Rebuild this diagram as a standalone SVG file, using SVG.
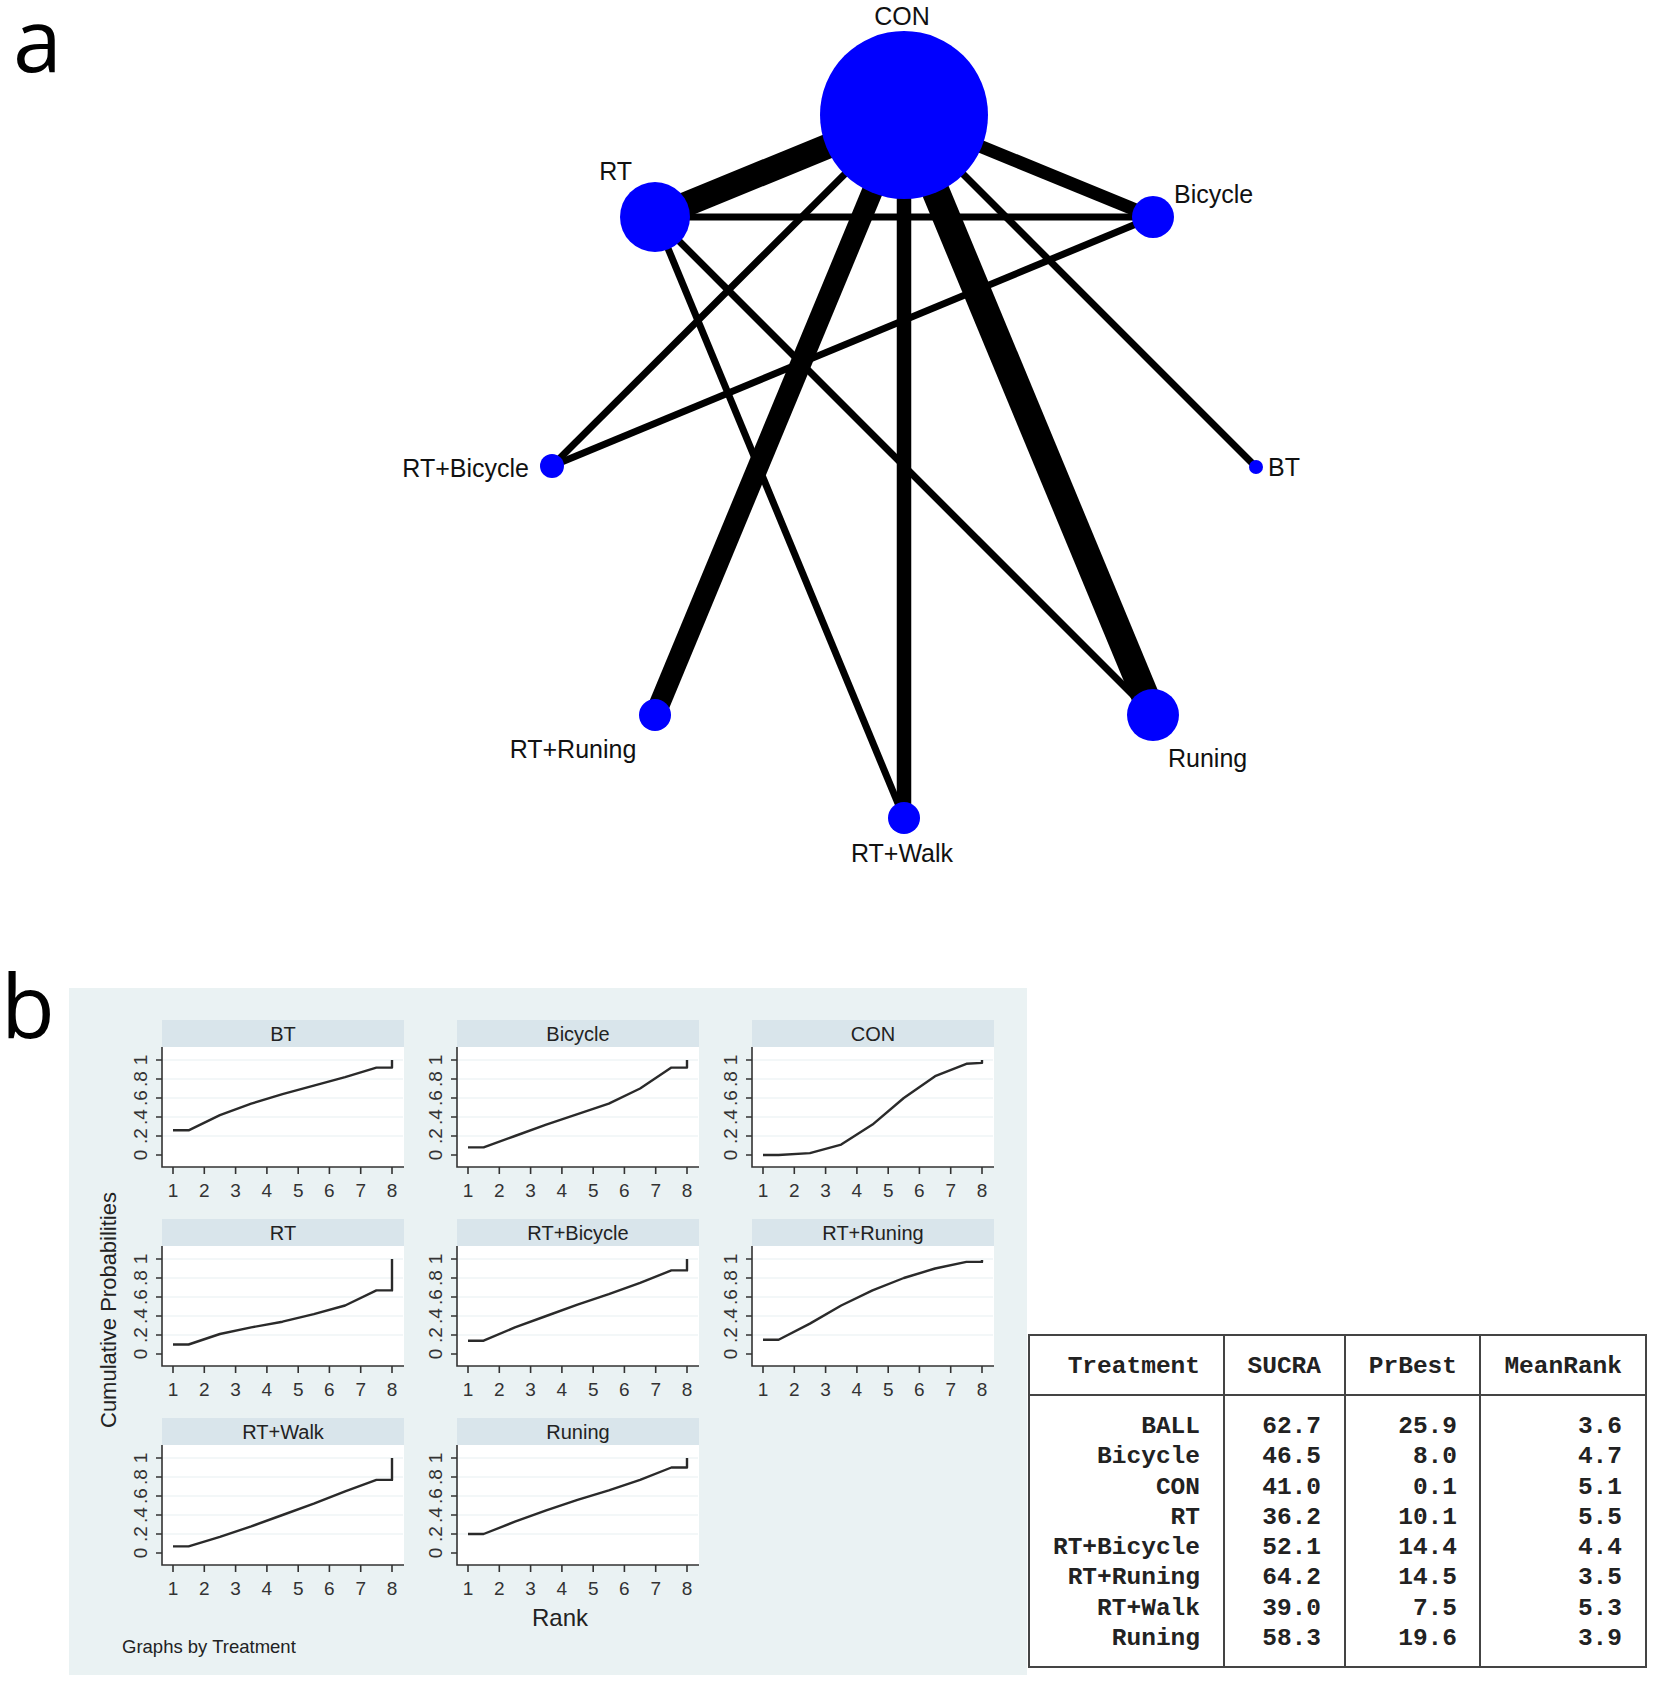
<svg xmlns="http://www.w3.org/2000/svg" width="1654" height="1682" viewBox="0 0 1654 1682">
<style>
.lbl{font-family:"Liberation Sans",Arial,sans-serif;font-size:25px;fill:#111}
.node{fill:#0000ff}
.edge{stroke:#000;fill:none;stroke-linecap:butt}
.panelbg{fill:#eaf2f3}
.strip{fill:#d9e5eb}
.plot{fill:#fff}
.axis{stroke:#333;stroke-width:1.6;fill:none}
.grid{stroke:#e8f0f2;stroke-width:1.2}
.curve{stroke:#2a2a2a;stroke-width:2.4;fill:none;stroke-linejoin:round}
.tick{font-family:"Liberation Sans",Arial,sans-serif;font-size:19px;fill:#333;text-anchor:middle}
.ttl{font-family:"Liberation Sans",Arial,sans-serif;font-size:20px;fill:#222;text-anchor:middle}
.tb{font-family:"Liberation Mono","Courier New",monospace;font-weight:bold;font-size:24.5px;fill:#222;text-anchor:end}
.tline{stroke:#444;stroke-width:2;fill:none}
.letter{font-family:"Open Sans","DejaVu Sans",sans-serif;font-size:88px;fill:#000}
</style>
<rect width="1654" height="1682" fill="#fff"/>
<text class="letter" x="13" y="72">a</text>
<g id="connectors">
<line class="edge" x1="904" y1="115" x2="655" y2="217" stroke-width="25"/>
<line class="edge" x1="904" y1="115" x2="1153" y2="217" stroke-width="13"/>
<line class="edge" x1="655" y1="217" x2="1153" y2="217" stroke-width="7"/>
<line class="edge" x1="904" y1="115" x2="552" y2="466" stroke-width="7"/>
<line class="edge" x1="904" y1="115" x2="1256" y2="467" stroke-width="7"/>
<line class="edge" x1="1153" y1="217" x2="552" y2="466" stroke-width="7"/>
<line class="edge" x1="655" y1="217" x2="904" y2="818" stroke-width="7"/>
<line class="edge" x1="655" y1="217" x2="1153" y2="715" stroke-width="7"/>
<line class="edge" x1="904" y1="115" x2="655" y2="715" stroke-width="21"/>
<line class="edge" x1="904" y1="115" x2="904" y2="818" stroke-width="14.5"/>
<line class="edge" x1="904" y1="115" x2="1153" y2="715" stroke-width="28"/>
</g>
<g id="node-CON"><circle class="node" cx="904" cy="115" r="84"/><text class="lbl" x="902" y="25" text-anchor="middle">CON</text></g>
<g id="node-RT"><circle class="node" cx="655" cy="217" r="35"/><text class="lbl" x="632" y="180" text-anchor="end">RT</text></g>
<g id="node-Bicycle"><circle class="node" cx="1153" cy="217" r="21"/><text class="lbl" x="1174" y="203">Bicycle</text></g>
<g id="node-RTBicycle"><circle class="node" cx="552" cy="466" r="12"/><text class="lbl" x="529" y="477" text-anchor="end">RT+Bicycle</text></g>
<g id="node-BT"><circle class="node" cx="1256" cy="467" r="7"/><text class="lbl" x="1268" y="476">BT</text></g>
<g id="node-RTRuning"><circle class="node" cx="655" cy="715" r="16"/><text class="lbl" x="573" y="758" text-anchor="middle">RT+Runing</text></g>
<g id="node-Runing"><circle class="node" cx="1153" cy="715" r="26"/><text class="lbl" x="1168" y="767">Runing</text></g>
<g id="node-RTWalk"><circle class="node" cx="904" cy="818" r="16"/><text class="lbl" x="902" y="862" text-anchor="middle">RT+Walk</text></g>

<text class="letter" x="1" y="1038">b</text>
<rect class="panelbg" x="69" y="988" width="958" height="687"/>

<defs>
<g id="frame">
<rect class="strip" x="0" y="0" width="242" height="27"/>
<rect class="plot" x="0" y="27" width="242" height="120"/>
<line class="grid" x1="1" y1="116" x2="241" y2="116"/>
<line class="grid" x1="1" y1="97" x2="241" y2="97"/>
<line class="grid" x1="1" y1="78" x2="241" y2="78"/>
<line class="grid" x1="1" y1="59" x2="241" y2="59"/>
<line class="grid" x1="1" y1="40" x2="241" y2="40"/>
<path class="axis" d="M0,27V147H242"/>
<path class="axis" d="M-6,135H0M-6,116H0M-6,97H0M-6,78H0M-6,59H0M-6,40H0"/>
<path class="axis" d="M11,147v7M42.3,147v7M73.6,147v7M104.9,147v7M136.2,147v7M167.4,147v7M198.7,147v7M230,147v7"/>
<g class="tick">
<text transform="translate(-15,135) rotate(-90)">0</text>
<text transform="translate(-15,116) rotate(-90)">.2</text>
<text transform="translate(-15,97) rotate(-90)">.4</text>
<text transform="translate(-15,78) rotate(-90)">.6</text>
<text transform="translate(-15,59) rotate(-90)">.8</text>
<text transform="translate(-15,40) rotate(-90)">1</text>
<text x="11" y="177">1</text><text x="42.3" y="177">2</text><text x="73.6" y="177">3</text><text x="104.9" y="177">4</text><text x="136.2" y="177">5</text><text x="167.4" y="177">6</text><text x="198.7" y="177">7</text><text x="230" y="177">8</text>
</g>
</g>
</defs>

<g id="panel-BT">
<use href="#frame" x="162" y="1020"/>
<text class="ttl" x="283" y="1041">BT</text>
<polyline class="curve" points="173,1130.3 188.6,1130.3 219.9,1115.1 251.2,1103.7 282.5,1094.2 313.8,1085.7 345.1,1077.1 376.4,1067.6 392,1067.6 392,1060"/>
</g>
<g id="panel-Bicycle">
<use href="#frame" x="457" y="1020"/>
<text class="ttl" x="578" y="1041">Bicycle</text>
<polyline class="curve" points="468,1147.4 483.6,1147.4 514.9,1136 546.2,1124.6 577.5,1114.2 608.8,1103.7 640.1,1088.5 671.4,1067.6 687,1067.6 687,1060"/>
</g>
<g id="panel-CON">
<use href="#frame" x="752" y="1020"/>
<text class="ttl" x="873" y="1041">CON</text>
<polyline class="curve" points="763,1155 778.6,1155 809.9,1153.1 841.2,1144.6 872.5,1124.6 903.8,1098 935.1,1076.2 966.4,1063.8 982,1062.9 982,1060"/>
</g>
<g id="panel-RT">
<use href="#frame" x="162" y="1219"/>
<text class="ttl" x="283" y="1240">RT</text>
<polyline class="curve" points="173,1344.5 188.6,1344.5 219.9,1334 251.2,1327.4 282.5,1321.7 313.8,1314.1 345.1,1305.5 376.4,1290.4 392,1290.4 392,1259"/>
</g>
<g id="panel-RTBicycle">
<use href="#frame" x="457" y="1219"/>
<text class="ttl" x="578" y="1240">RT+Bicycle</text>
<polyline class="curve" points="468,1340.7 483.6,1340.7 514.9,1327.4 546.2,1316 577.5,1304.6 608.8,1294.2 640.1,1282.8 671.4,1270.4 687,1270.4 687,1259"/>
</g>
<g id="panel-RTRuning">
<use href="#frame" x="752" y="1219"/>
<text class="ttl" x="873" y="1240">RT+Runing</text>
<polyline class="curve" points="763,1339.8 778.6,1339.8 809.9,1323.6 841.2,1305.5 872.5,1290.4 903.8,1278 935.1,1268.5 966.4,1261.9 982,1261.9 982,1260"/>
</g>
<g id="panel-RTWalk">
<use href="#frame" x="162" y="1418"/>
<text class="ttl" x="283" y="1439">RT+Walk</text>
<polyline class="curve" points="173,1546.4 188.6,1546.4 219.9,1536.9 251.2,1526.4 282.5,1515 313.8,1503.6 345.1,1491.3 376.4,1479.9 392,1479.9 392,1458"/>
</g>
<g id="panel-Runing">
<use href="#frame" x="457" y="1418"/>
<text class="ttl" x="578" y="1439">Runing</text>
<polyline class="curve" points="468,1534 483.6,1534 514.9,1521.7 546.2,1510.3 577.5,1499.8 608.8,1490.3 640.1,1479.9 671.4,1467.5 687,1467.5 687,1458"/>
</g>
<text transform="translate(116,1310) rotate(-90)" font-family="Liberation Sans, Arial, sans-serif" font-size="22" fill="#222" text-anchor="middle">Cumulative Probabilities</text>
<text x="560" y="1626" font-family="Liberation Sans, Arial, sans-serif" font-size="24" fill="#222" text-anchor="middle">Rank</text>
<text x="122" y="1653" font-family="Liberation Sans, Arial, sans-serif" font-size="18.5" fill="#222">Graphs by Treatment</text>

<g id="table">
<rect class="tline" x="1029" y="1335" width="617" height="332" fill="#fff"/>
<path class="tline" d="M1224,1335V1667M1345,1335V1667M1480,1335V1667M1029,1395H1646"/>
<g class="tb">
<text x="1200" y="1373">Treatment</text><text x="1321" y="1373">SUCRA</text><text x="1457" y="1373">PrBest</text><text x="1622" y="1373">MeanRank</text>
<text x="1200" y="1433">BALL</text><text x="1321" y="1433">62.7</text><text x="1457" y="1433">25.9</text><text x="1622" y="1433">3.6</text>
<text x="1200" y="1463">Bicycle</text><text x="1321" y="1463">46.5</text><text x="1457" y="1463">8.0</text><text x="1622" y="1463">4.7</text>
<text x="1200" y="1494">CON</text><text x="1321" y="1494">41.0</text><text x="1457" y="1494">0.1</text><text x="1622" y="1494">5.1</text>
<text x="1200" y="1524">RT</text><text x="1321" y="1524">36.2</text><text x="1457" y="1524">10.1</text><text x="1622" y="1524">5.5</text>
<text x="1200" y="1554">RT+Bicycle</text><text x="1321" y="1554">52.1</text><text x="1457" y="1554">14.4</text><text x="1622" y="1554">4.4</text>
<text x="1200" y="1584">RT+Runing</text><text x="1321" y="1584">64.2</text><text x="1457" y="1584">14.5</text><text x="1622" y="1584">3.5</text>
<text x="1200" y="1615">RT+Walk</text><text x="1321" y="1615">39.0</text><text x="1457" y="1615">7.5</text><text x="1622" y="1615">5.3</text>
<text x="1200" y="1645">Runing</text><text x="1321" y="1645">58.3</text><text x="1457" y="1645">19.6</text><text x="1622" y="1645">3.9</text>
</g>
</g>
</svg>
